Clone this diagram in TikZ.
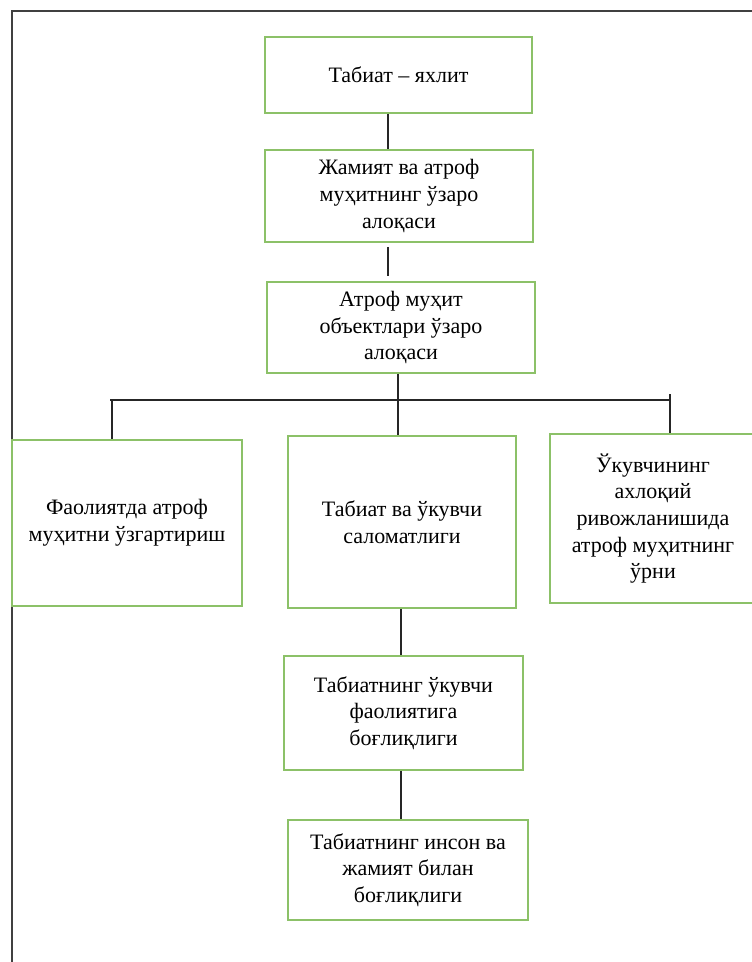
\documentclass[tikz,border=0pt]{standalone}
\usepackage{fontspec}
\setmainfont{Liberation Serif}
\usepackage{tikz}

\definecolor{boxgreen}{HTML}{8CC168}
\definecolor{framegray}{HTML}{404040}

\tikzset{
  block/.style={draw=boxgreen, line width=1.6pt, align=center, inner sep=0pt,
    font=\fontsize{22}{26.7}\selectfont},
  link/.style={draw=black!85, line width=1.4pt}
}

\begin{document}
\begin{tikzpicture}[x=1pt,y=-1pt]
    \useasboundingbox (0,0) rectangle (752,962);
    % Outer frame
    \draw[framegray, line width=2pt] (12,970) -- (12,11) -- (760,11);

    % Boxes
    \node[block, minimum width=267pt, minimum height=76pt] (whole) at (398.5,75) {Табиат – яхлит};
    \node[block, minimum width=268pt, minimum height=92pt] (society) at (399,196) {Жамият ва атроф\\муҳитнинг ўзаро\\алоқаси};
    \node[block, minimum width=268pt, minimum height=91pt] (objects) at (401,327.5) {Атроф муҳит\\объектлари ўзаро\\алоқаси};
    \node[block, minimum width=230pt, minimum height=166pt] (activity) at (127,523) {Фаолиятда атроф\\муҳитни ўзгартириш};
    \node[block, minimum width=228pt, minimum height=172pt] (health) at (402,522) {Табиат ва ўкувчи\\саломатлиги};
    \node[block, minimum width=206pt, minimum height=169pt] (morals) at (653,518.5) {Ўкувчининг\\ахлоқий\\ривожланишида\\атроф муҳитнинг\\ўрни};
    \node[block, minimum width=239pt, minimum height=114pt] (pupil) at (403.5,713) {Табиатнинг ўкувчи\\фаолиятига\\боғлиқлиги};
    \node[block, minimum width=240pt, minimum height=100pt] (human) at (408,870) {Табиатнинг инсон ва\\жамият билан\\боғлиқлиги};

    % Connectors
    \coordinate (upper axis) at (388,0);
    \coordinate (middle axis) at (398,0);
    \coordinate (lower axis) at (401,0);
    \coordinate (busL) at (112,400);
    \coordinate (busR) at (670,400);
    \draw[link] (whole.south -| upper axis) -- (society.north -| upper axis);
    \draw[link, shorten <=4pt, shorten >=5pt] (society.south -| upper axis) -- (objects.north -| upper axis);
    \draw[link] (objects.south -| middle axis) -- (health.north -| middle axis);
    \draw[link] ([xshift=-2pt]busL) -- (busR);
    \draw[link] (busL) -- (busL |- activity.north);
    \draw[link] ([yshift=6pt]busR) -- (busR |- morals.north);
    \draw[link] (health.south -| lower axis) -- (pupil.north -| lower axis);
    \draw[link] (pupil.south -| lower axis) -- (human.north -| lower axis);
\end{tikzpicture}
\end{document}
